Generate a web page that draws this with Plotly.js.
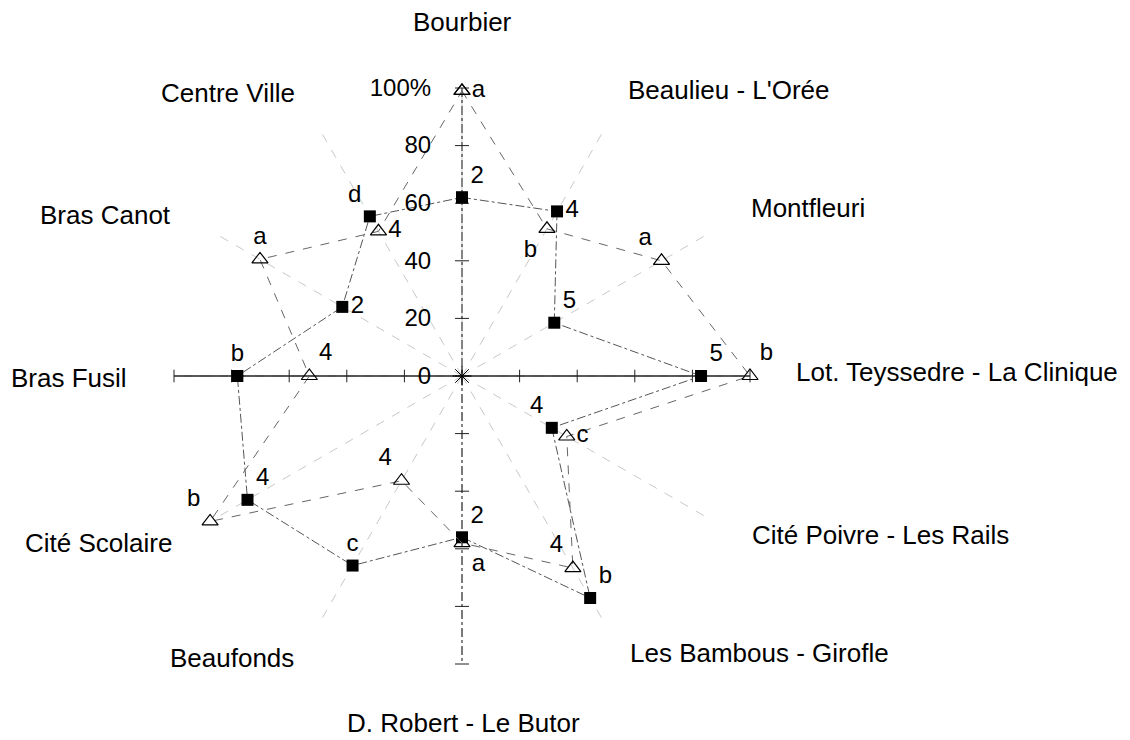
<!DOCTYPE html>
<html>
<head>
<meta charset="utf-8">
<script src="https://cdn.plot.ly/plotly-3.0.1.min.js"></script>
<style>
  body { margin: 0; background: #fff; }
  #chart { width: 1130px; height: 740px; }
</style>
</head>
<body>
<div id="chart"></div>
<script>
// quartiers, dans le sens des aiguilles d'une montre depuis le haut
const quartiers = ["Bourbier", "Beaulieu - L'Orée", "Montfleuri", "Lot. Teyssedre - La Clinique",
  "Cité Poivre - Les Rails", "Les Bambous - Girofle", "D. Robert - Le Butor", "Beaufonds",
  "Cité Scolaire", "Bras Fusil", "Bras Canot", "Centre Ville"];

// série carrés (pleins)
const valCarres = [62, 66, 37, 83, 36, 89, 56, 76, 86, 78, 48, 64];
const etiqCarres = ["2", "4", "5", "5", "4", "b", "2", "c", "4", "b", "2", "d"];

// série triangles (vides)
const valTriangles = [99, 59, 80, 100, 42, 77, 58, 42, 101, 53, 81, 58];
const etiqTriangles = ["a", "b", "a", "b", "c", "4", "a", "4", "b", "4", "a", "4"];

// graduations de l'axe
const graduations = [0, 20, 40, 60, 80, 100];
const gradTexte = ["0", "20", "40", "60", "80", "100%"];

// position des noms de quartiers (pixels dans la page)
const posNoms = [[462, 22], [729, 90], [808, 208], [957, 372], [880, 535], [759, 653],
  [463, 723], [232, 658], [98, 543], [69, 378], [105, 215], [228, 93]];

const W = 1130, H = 740;
const police = { family: "Liberation Sans, Arial, sans-serif", size: 24, color: "#000" };
const policeNoms = { family: "Liberation Sans, Arial, sans-serif", size: 26, color: "#000" };

// rayons (0 -> 100) pour chaque quartier
const rayons = { r: [], theta: [] };
quartiers.forEach(q => {
  rayons.r.push(0, 100, null);
  rayons.theta.push(q, q, null);
});

// axe horizontal (Bras Fusil -> Lot. Teyssedre) et axe vertical (Bourbier -> D. Robert)
function axe(gauche, droite) {
  const r = graduations.slice().reverse().concat(graduations.slice(1));
  const th = graduations.map(() => gauche).concat(graduations.slice(1).map(() => droite));
  return { r, th };
}
const axeH = axe(quartiers[9], quartiers[3]);
const axeV = axe(quartiers[0], quartiers[6]);

const traceRayons = {
  type: "scatterpolar", r: rayons.r, theta: rayons.theta, mode: "lines",
  line: { color: "#c8c8c8", width: 1, dash: "dash" },
  hoverinfo: "skip", showlegend: false, connectgaps: false
};
const traceAxeH = {
  type: "scatterpolar", r: axeH.r, theta: axeH.th, mode: "lines+markers",
  line: { color: "#222", width: 1.3 },
  marker: { symbol: "line-ns", size: 9, color: "#222", line: { color: "#222", width: 1 } },
  hoverinfo: "skip", showlegend: false
};
const traceAxeV = {
  type: "scatterpolar", r: axeV.r, theta: axeV.th, mode: "lines+markers",
  line: { color: "#333", width: 1.2, dash: "dashdot" },
  marker: { symbol: "line-ew", size: 10, color: "#222", line: { color: "#222", width: 1 } },
  hoverinfo: "skip", showlegend: false
};
const centre = {
  type: "scatterpolar", r: [0], theta: [quartiers[0]], mode: "markers",
  marker: { symbol: "asterisk", size: 16, color: "#000", line: { color: "#000", width: 1 } },
  hoverinfo: "skip", showlegend: false
};

const carres = {
  type: "scatterpolar",
  r: valCarres.concat([valCarres[0]]),
  theta: quartiers.concat([quartiers[0]]),
  text: etiqCarres.concat([""]),
  mode: "lines+markers+text",
  textposition: ["top right", "middle right", "top right", "top right", "top left", "top right",
    "top right", "top center", "top right", "top center", "middle right", "top left", "top right"],
  textfont: police,
  line: { color: "#555", width: 1, dash: "dashdot" },
  marker: { symbol: "square", size: 12, color: "#000" },
  showlegend: false
};

const triangles = {
  type: "scatterpolar",
  r: valTriangles.concat([valTriangles[0]]),
  theta: quartiers.concat([quartiers[0]]),
  text: etiqTriangles.concat([""]),
  mode: "lines+markers+text",
  textposition: ["middle right", "bottom left", "top left", "top right", "middle right", "top left",
    "bottom right", "top left", "top left", "top right", "top center", "middle right", "middle right"],
  textfont: police,
  line: { color: "#666", width: 1, dash: "dash" },
  marker: { symbol: "triangle-up-open", size: 14, color: "#000", line: { width: 1.2 } },
  showlegend: false
};

// 100 % = 288 px ; l'axe va jusqu'à 110 pour garder le triangle de Cité Scolaire
const R = 288 * 1.1, cx = 462, cy = 376;
const layout = {
  width: W, height: H,
  margin: { l: 0, r: 0, t: 0, b: 0 },
  paper_bgcolor: "#fff",
  font: police,
  showlegend: false,
  polar: {
    domain: { x: [(cx - R) / W, (cx + R) / W], y: [(H - cy - R) / H, (H - cy + R) / H] },
    bgcolor: "rgba(0,0,0,0)",
    angularaxis: {
      type: "category", categoryarray: quartiers, direction: "clockwise", rotation: 90,
      showline: false, showticklabels: false, ticks: "", showgrid: false
    },
    radialaxis: {
      range: [0, 110], angle: 90, side: "counterclockwise",
      showline: false, showgrid: false,
      tickmode: "array", tickvals: graduations, ticktext: gradTexte,
      ticks: "outside", ticklen: 22, tickcolor: "rgba(0,0,0,0)",
      tickfont: police, tickangle: 90
    }
  },
  annotations: quartiers.map((q, i) => ({
    text: q, xref: "paper", yref: "paper",
    x: posNoms[i][0] / W, y: 1 - posNoms[i][1] / H,
    xanchor: "center", yanchor: "middle", showarrow: false, font: policeNoms
  }))
};

Plotly.newPlot("chart", [traceRayons, traceAxeH, traceAxeV, centre, carres, triangles], layout, { staticPlot: true });
</script>
</body>
</html>
